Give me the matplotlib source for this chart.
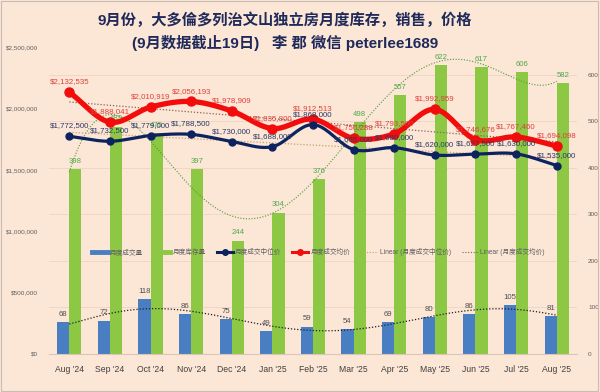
import numpy as np
import matplotlib
matplotlib.use("Agg")
import matplotlib.pyplot as plt
from matplotlib.lines import Line2D
from matplotlib.ticker import FuncFormatter

plt.rcParams["font.family"] = ["Liberation Sans", "Noto Sans CJK SC", "DejaVu Sans"]

# ---------------------------------------------------------------------------
# Data
# ---------------------------------------------------------------------------
months = ["Aug '24", "Sep '24", "Oct '24", "Nov '24", "Dec '24", "Jan '25", "Feb '25",
          "Mar '25", "Apr '25", "May '25", "Jun '25", "Jul '25", "Aug '25"]
sales = [68, 72, 118, 86, 75, 49, 59, 54, 69, 80, 86, 105, 81]
inventory = [398, 489, 475, 397, 244, 304, 376, 498, 557, 622, 617, 606, 582]
median_price = [1772500, 1732500, 1779000, 1788500, 1730000, 1688000, 1868000,
                1665000, 1680000, 1620000, 1627500, 1630000, 1535000]
average_price = [2132535, 1888041, 2010919, 2056193, 1978909, 1835800, 1912513,
                 1756288, 1793500, 1992959, 1746676, 1767460, 1694098]

title1 = "9月份，大多倫多列治文山独立房月度库存，销售，价格"
title2 = "(9月数据截止19日)   李 郡 微信 peterlee1689"
legend_labels = ["月度成交量", "月度库存量", "月度成交中位价", "月度成交均价",
                 "Linear (月度成交中位价)", "Linear (月度成交均价)"]

BG = "#FCE6D6"
BLUE = "#4A7EC2"
GREEN = "#8CC844"
NAVY = "#0D2360"
RED = "#F20C0C"


def smooth(x, y, n=20):
    """Catmull-Rom style smoothing, like Excel's 'smoothed line' option."""
    x = np.asarray(x, float)
    y = np.asarray(y, float)
    px = np.concatenate([[2 * x[0] - x[1]], x, [2 * x[-1] - x[-2]]])
    py = np.concatenate([[2 * y[0] - y[1]], y, [2 * y[-1] - y[-2]]])
    xs, ys = [], []
    t = np.linspace(0, 1, n, endpoint=False)
    for i in range(1, len(px) - 2):
        for arr, out in ((px, xs), (py, ys)):
            p0, p1, p2, p3 = arr[i - 1], arr[i], arr[i + 1], arr[i + 2]
            out.extend(0.5 * ((2 * p1) + (-p0 + p2) * t
                              + (2 * p0 - 5 * p1 + 4 * p2 - p3) * t**2
                              + (-p0 + 3 * p1 - 3 * p2 + p3) * t**3))
    xs.append(x[-1])
    ys.append(y[-1])
    return np.array(xs), np.array(ys)


x = np.arange(len(months))
xf = np.linspace(x[0], x[-1], 300)

fig = plt.figure(figsize=(6, 3.92), dpi=100, facecolor=BG)
ax = fig.add_axes([49 / 600, 38 / 392, 528 / 600, 307 / 392], facecolor=BG)
ax2 = ax.twinx()

# --- counts (bars) on the right-hand axis -----------------------------------
w = 0.3
ax.bar(x - w / 2, sales, w, color=BLUE, zorder=2)
ax.bar(x + w / 2, inventory, w, color=GREEN, zorder=2)
for xi, s in zip(x, sales):
    ax.annotate(str(s), (xi - w / 2, s), xytext=(0, 3), textcoords="offset points",
                ha="center", va="bottom", fontsize=5.6, color="#505050", zorder=5)
for xi, v in zip(x, inventory):
    ax.annotate(str(v), (xi + w / 2, v), xytext=(0, 3), textcoords="offset points",
                ha="center", va="bottom", fontsize=5.6, color="#4DAA4D", zorder=5)

# polynomial trendlines of the bars
ax.plot(xf, np.polyval(np.polyfit(x, inventory, 6), xf), ls=(0, (1, 1.5)),
        color="#4E9A3A", lw=0.8, zorder=3)
ax.plot(xf, np.polyval(np.polyfit(x, sales, 6), xf), ls=(0, (1, 1.5)),
        color="#202020", lw=0.9, zorder=3)

ax.set_ylim(0, 660)
ax.set_xlim(-0.5, len(months) - 0.5)
ax.set_yticks(range(0, 700, 100))
ax.yaxis.tick_right()
ax.grid(axis="y", color="#EDD3C2", lw=0.6, zorder=0)
ax.set_axisbelow(True)
ax.set_xticks(x)
ax.set_xticklabels(months)
ax.tick_params(axis="x", length=0, labelsize=6.2, colors="#404040", pad=8)
ax.tick_params(axis="y", length=0, labelsize=4.6, colors="#606060", pad=8)
for side in ("top", "left", "right"):
    ax.spines[side].set_visible(False)
ax.spines["bottom"].set_color("#D9C6B8")

# --- prices (lines) on the left-hand axis -----------------------------------
sx, sy = smooth(x, average_price)
ax2.plot(sx, sy, color=RED, lw=3.8, zorder=4, solid_capstyle="round")
ax2.plot(x, average_price, "o", color=RED, ms=6.5, zorder=4)
sx, sy = smooth(x, median_price)
ax2.plot(sx, sy, color=NAVY, lw=2.3, zorder=4, solid_capstyle="round")
ax2.plot(x, median_price, "o", color=NAVY, ms=5, zorder=4)

ax2.plot(xf, np.polyval(np.polyfit(x, median_price, 1), xf), ls=(0, (1, 1.5)),
         color="#C9A070", lw=0.9, zorder=3)
ax2.plot(xf, np.polyval(np.polyfit(x, average_price, 1), xf), ls=(0, (1, 1.5)),
         color="#8A6458", lw=0.9, zorder=3)

for xi, v in zip(x, average_price):
    ax2.annotate(f"${v:,}", (xi, v), xytext=(0, 5), textcoords="offset points",
                 ha="center", va="bottom", fontsize=5.7, color="#E0403A", zorder=6)
for xi, v in zip(x, median_price):
    ax2.annotate(f"${v:,}", (xi, v), xytext=(0, 5), textcoords="offset points",
                 ha="center", va="bottom", fontsize=5.7, color="#2A3A66", zorder=6)

ax2.set_ylim(0, 2500000)
ax2.set_yticks(range(0, 2500001, 500000))
ax2.yaxis.set_major_formatter(FuncFormatter(lambda v, p: f"${v:,.0f}"))
ax2.yaxis.tick_left()
ax2.tick_params(axis="y", length=0, labelsize=4.6, colors="#606060", pad=8)
for side in ("top", "left", "right", "bottom"):
    ax2.spines[side].set_visible(False)

# --- legend ------------------------------------------------------------------
handles = [
    Line2D([], [], color=BLUE, lw=3.5),
    Line2D([], [], color=GREEN, lw=3.5),
    Line2D([], [], color=NAVY, lw=2.2, marker="o", ms=4),
    Line2D([], [], color=RED, lw=2.2, marker="o", ms=4),
    Line2D([], [], color="#C9A070", lw=0.8, ls=(0, (1, 1.5))),
    Line2D([], [], color="#8A6458", lw=0.8, ls=(0, (1, 1.5))),
]
leg = ax2.legend(handles, legend_labels, loc="center", bbox_to_anchor=(0.51, 0.332),
                 ncol=6, frameon=False, fontsize=4.8, handlelength=2.4,
                 columnspacing=1.6, handletextpad=0.4)
for t in leg.get_texts():
    t.set_color("#606060")

# --- title -------------------------------------------------------------------
fig.text(0.475, 1 - 20 / 392, title1, ha="center", va="center", fontsize=11,
         fontweight="bold", color="#1F2A5A")
fig.text(0.475, 1 - 43 / 392, title2, ha="center", va="center", fontsize=11,
         fontweight="bold", color="#1F2A5A")

fig.add_artist(plt.Rectangle((0.002, 0.003), 0.995, 0.994, transform=fig.transFigure,
                             fill=False, ec="#C8BDB5", lw=0.8))

fig.savefig("out.png", dpi=100, facecolor=BG)
